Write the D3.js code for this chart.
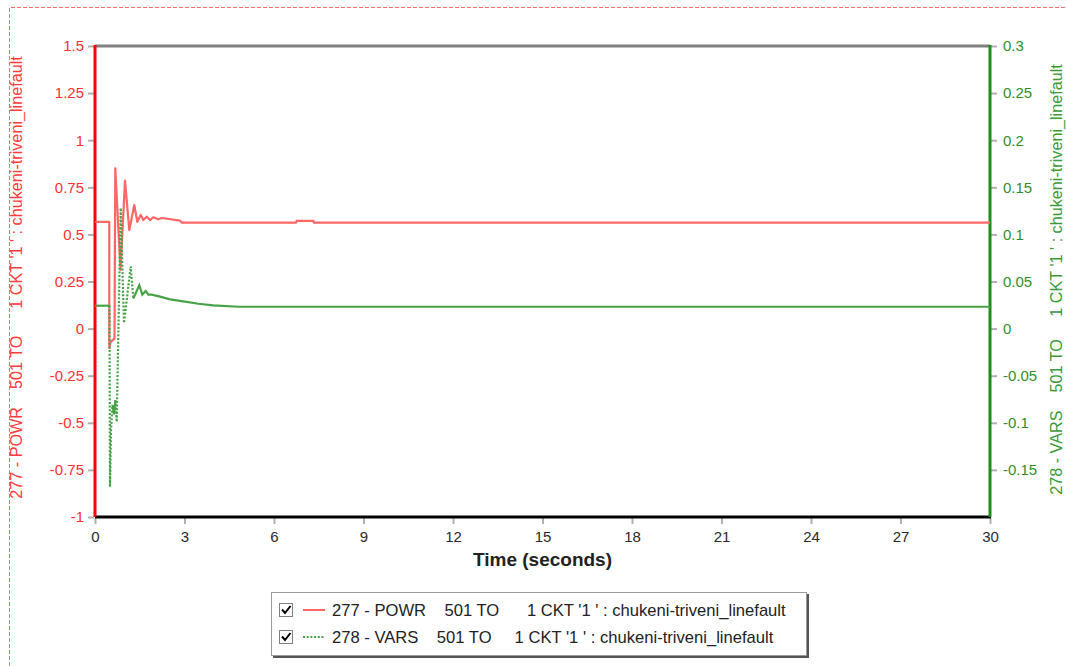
<!DOCTYPE html>
<html>
<head>
<meta charset="utf-8">
<script src="https://cdn.jsdelivr.net/npm/d3@7"></script>
<style>
  body { margin: 0; background: #fff; }
  svg { display: block; font-family: "Liberation Sans", Arial, sans-serif; }
</style>
</head>
<body>
<svg id="chart" width="1066" height="666"></svg>
<script>
// ---- data -------------------------------------------------------------
const timeTicks = [0, 3, 6, 9, 12, 15, 18, 21, 24, 27, 30];
const powrTicks = [-1, -0.75, -0.5, -0.25, 0, 0.25, 0.5, 0.75, 1, 1.25, 1.5];
const varsTicks = [-0.15, -0.1, -0.05, 0, 0.05, 0.1, 0.15, 0.2, 0.25, 0.3];

// 277 - POWR (left axis)
const powrTime = [0, 0.479, 0.48, 0.526, 0.654, 0.68, 0.855, 1.006, 1.15, 1.317, 1.418,
  1.532, 1.619, 1.733, 1.844, 1.954, 2.122, 2.246, 2.849, 2.916, 6.74, 6.76, 7.32, 7.34, 30];
const powrValues = [0.566, 0.566, -0.103, -0.07, -0.053, 0.851, 0.311, 0.785, 0.523, 0.656, 0.567,
  0.603, 0.576, 0.594, 0.576, 0.591, 0.58, 0.587, 0.573, 0.562, 0.562, 0.572, 0.572, 0.562, 0.562];

// 278 - VARS (right axis)
const varsTime = [0, 0.486, 0.503, 0.536, 0.587, 0.637, 0.687, 0.727, 0.861, 0.972, 1.197,
  1.284, 1.485, 1.585, 1.7, 1.787, 1.9, 2.179, 2.514, 2.739, 3.017, 3.463, 3.966, 4.804, 30];
const varsValues = [0.0243, 0.0243, -0.168, -0.108, -0.081, -0.091, -0.076, -0.099, 0.128, 0.006, 0.066,
  0.032, 0.046, 0.036, 0.04, 0.036, 0.036, 0.034, 0.031, 0.03, 0.0286, 0.0264, 0.0247, 0.0232, 0.0232];

const powrLabel = "277 - POWR    501 TO      1 CKT '1 ' : chukeni-triveni_linefault";
const varsLabel = "278 - VARS    501 TO     1 CKT '1 ' : chukeni-triveni_linefault";
const xTitle = "Time (seconds)";

// ---- layout -----------------------------------------------------------
const W = 1066, H = 666;
const plot = { left: 95, right: 990, top: 46, bottom: 517 };
const powrColor = "#ff6666", varsColor = "#47a247";

const svg = d3.select("#chart");

const x = d3.scaleLinear().domain([0, 30]).range([plot.left, plot.right]);
const yL = d3.scaleLinear().domain([-1, 1.5]).range([plot.bottom, plot.top]);
const yR = d3.scaleLinear().domain([-0.2, 0.3]).range([plot.bottom, plot.top]);

// dashed outer frame (top and left edges)
svg.append("path")
  .attr("d", `M9.5,${H} V7.5 H${W}`)
  .attr("fill", "none")
  .attr("stroke", "#ff6a6a")
  .attr("stroke-width", 1)
  .attr("stroke-dasharray", "4,2");

// ---- axes -------------------------------------------------------------
function styleAxis(g, labelColor) {
  g.select(".domain").remove();
  g.selectAll(".tick line").attr("stroke", "#b0b0b0").attr("stroke-width", 2);
  g.selectAll(".tick text").attr("fill", labelColor).attr("font-size", 15)
    .attr("font-family", "\"Liberation Sans\", Arial, sans-serif");
}

svg.append("g")
  .attr("transform", `translate(${plot.left - 1},0)`)
  .call(d3.axisLeft(yL).tickValues(powrTicks).tickSize(6).tickPadding(4).tickFormat(d => String(d)))
  .call(g => styleAxis(g, "#ff3030"));

svg.append("g")
  .attr("transform", `translate(${plot.right + 1},0)`)
  .call(d3.axisRight(yR).tickValues(varsTicks).tickSize(6).tickPadding(6).tickFormat(d => String(d)))
  .call(g => styleAxis(g, "#2f8f2f"));

svg.append("g")
  .attr("transform", `translate(0,${plot.bottom + 1})`)
  .call(d3.axisBottom(x).tickValues(timeTicks).tickSize(6).tickPadding(7).tickFormat(d => String(d)))
  .call(g => styleAxis(g, "#2a2a2a"));

// plot frame: grey top, black bottom, coloured side axes
svg.append("line").attr("x1", plot.left).attr("x2", plot.right).attr("y1", plot.top).attr("y2", plot.top)
  .attr("stroke", "#808080").attr("stroke-width", 3);
svg.append("line").attr("x1", plot.left).attr("x2", plot.right + 1).attr("y1", plot.bottom).attr("y2", plot.bottom)
  .attr("stroke", "#000").attr("stroke-width", 3);
svg.append("line").attr("x1", plot.left).attr("x2", plot.left).attr("y1", plot.top - 1).attr("y2", plot.bottom)
  .attr("stroke", "#ff0000").attr("stroke-width", 3);
svg.append("line").attr("x1", plot.right).attr("x2", plot.right).attr("y1", plot.top - 1).attr("y2", plot.bottom)
  .attr("stroke", "#1e8c1e").attr("stroke-width", 3);

// axis titles
svg.append("text")
  .attr("transform", `translate(22,${(plot.top + plot.bottom) / 2 - 4}) rotate(-90)`)
  .attr("text-anchor", "middle")
  .attr("font-size", 16.2)
  .attr("fill", "#ff3b3b")
  .style("white-space", "pre")
  .text(powrLabel);

svg.append("text")
  .attr("transform", `translate(1062,${(plot.top + plot.bottom) / 2 - 2}) rotate(-90)`)
  .attr("text-anchor", "middle")
  .attr("font-size", 16.2)
  .attr("fill", "#3a9a3a")
  .style("white-space", "pre")
  .text(varsLabel);

svg.append("text")
  .attr("x", (plot.left + plot.right) / 2)
  .attr("y", 566)
  .attr("text-anchor", "middle")
  .attr("font-size", 19)
  .attr("font-weight", "bold")
  .attr("fill", "#222")
  .text(xTitle);

// ---- series -----------------------------------------------------------
svg.append("defs").append("clipPath").attr("id", "plotClip")
  .append("rect").attr("x", plot.left).attr("y", plot.top)
  .attr("width", plot.right - plot.left).attr("height", plot.bottom - plot.top);

const series = svg.append("g").attr("clip-path", "url(#plotClip)");

const powrPts = powrTime.map((t, i) => [x(t), yL(powrValues[i])]);
const varsPts = varsTime.map((t, i) => [x(t), yR(varsValues[i])]);

series.append("path")
  .attr("d", d3.line()(powrPts))
  .attr("fill", "none")
  .attr("stroke", powrColor)
  .attr("stroke-width", 2.2)
  .attr("stroke-linejoin", "round");

// The dotted pen restarts on every sample, so only the long steep jumps
// show the dot pattern; dense, nearly flat runs read as a solid line.
const runs = [];
for (let i = 0; i < varsPts.length - 1; i++) {
  const a = varsPts[i], b = varsPts[i + 1];
  const dotted = Math.abs(b[1] - a[1]) > 18;
  const last = runs[runs.length - 1];
  if (last && last.dotted === dotted) last.pts.push(b);
  else runs.push({ dotted, pts: [a, b] });
}
series.selectAll("path.vars").data(runs).join("path")
  .attr("class", "vars")
  .attr("d", r => d3.line()(r.pts))
  .attr("fill", "none")
  .attr("stroke", varsColor)
  .attr("stroke-width", 2.2)
  .attr("stroke-dasharray", r => r.dotted ? "2,1.7" : null);

// ---- legend -----------------------------------------------------------
const legend = svg.append("g");
legend.append("rect").attr("x", 273).attr("y", 594).attr("width", 536).attr("height", 64)
  .attr("fill", "#555");
legend.append("rect").attr("x", 271.5).attr("y", 592.5).attr("width", 535).attr("height", 63)
  .attr("fill", "#fff").attr("stroke", "#9a9a9a");

const entries = [
  { label: powrLabel, color: powrColor, dash: null },
  { label: varsLabel, color: varsColor, dash: "2,1.7" }
];
const rowY = [610, 637];
entries.forEach((e, i) => {
  const cy = rowY[i];
  legend.append("rect").attr("x", 279.5).attr("y", cy - 6.5).attr("width", 13).attr("height", 13)
    .attr("fill", "#fff").attr("stroke", "#808080");
  legend.append("path")
    .attr("d", `M282,${cy - 0.5} L285,${cy + 3} L290.5,${cy - 4}`)
    .attr("fill", "none").attr("stroke", "#000").attr("stroke-width", 2);
  legend.append("line").attr("x1", 303).attr("x2", 325).attr("y1", cy).attr("y2", cy)
    .attr("stroke", e.color).attr("stroke-width", 2).attr("stroke-dasharray", e.dash);
  legend.append("text").attr("x", 332).attr("y", cy + 5.5)
    .attr("font-size", 16.6).attr("fill", "#222")
    .style("white-space", "pre")
    .text(e.label);
});
</script>
</body>
</html>
